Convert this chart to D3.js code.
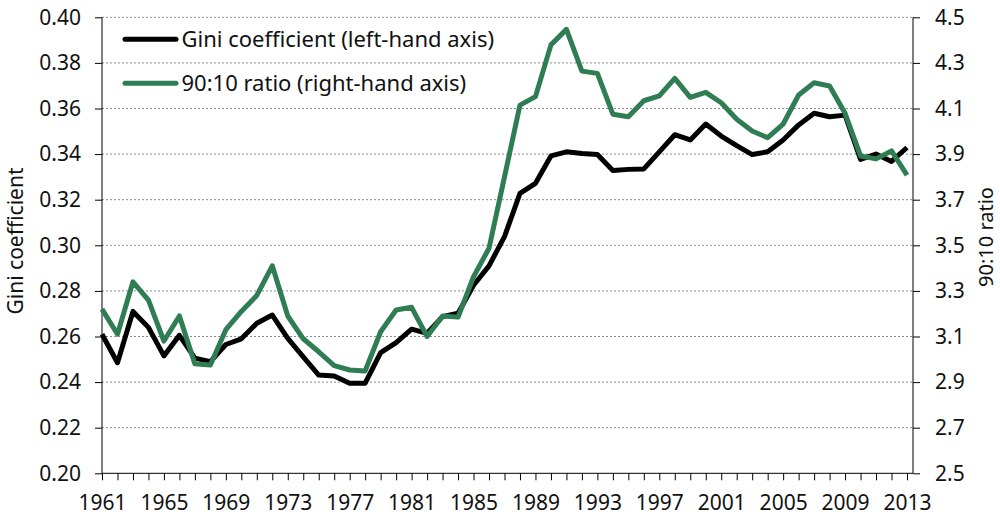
<!DOCTYPE html>
<html>
<head>
<meta charset="utf-8">
<script src="https://cdn.jsdelivr.net/npm/d3@7"></script>
<style>
  html, body { margin: 0; padding: 0; background: #fff; }
  svg { display: block; }
  text { font-family: "Noto Sans", "Open Sans", sans-serif; fill: #111; }
</style>
</head>
<body>
<svg id="chart" width="1000" height="516"></svg>
<script>
const years = [1961,1962,1963,1964,1965,1966,1967,1968,1969,1970,1971,1972,1973,1974,1975,1976,1977,1978,1979,1980,
  1981,1982,1983,1984,1985,1986,1987,1988,1989,1990,1991,1992,1993,1994,1995,1996,1997,1998,1999,2000,
  2001,2002,2003,2004,2005,2006,2007,2008,2009,2010,2011,2012,2013];
const gini = [0.261,0.2485,0.271,0.264,0.2515,0.2605,0.2505,0.249,0.2565,0.259,0.2658,0.2694,0.2592,0.2511,0.2431,0.2427,0.2395,0.2395,0.2529,0.2573,
  0.2632,0.2614,0.2687,0.2702,0.2825,0.2910,0.3038,0.3228,0.3272,0.3392,0.3410,0.3403,0.3398,0.3328,0.3333,0.3335,0.3410,0.3485,0.3462,0.3532,
  0.3479,0.3437,0.3398,0.3410,0.3462,0.3528,0.3579,0.3564,0.3571,0.3377,0.3400,0.3368,0.3429];
const ratio9010 = [3.22,3.11,3.34,3.26,3.08,3.19,2.98,2.975,3.13,3.21,3.28,3.41,3.19,3.09,3.033,2.972,2.953,2.949,3.121,3.216,
  3.228,3.10,3.19,3.185,3.362,3.487,3.80,4.115,4.152,4.379,4.447,4.264,4.254,4.075,4.064,4.134,4.155,4.232,4.149,4.171,
  4.125,4.053,4.001,3.972,4.032,4.159,4.213,4.199,4.079,3.892,3.879,3.914,3.808];
const leftTicks = [0.20,0.22,0.24,0.26,0.28,0.30,0.32,0.34,0.36,0.38,0.40];
const rightTicks = [2.5,2.7,2.9,3.1,3.3,3.5,3.7,3.9,4.1,4.3,4.5];
const yearLabels = [1961,1965,1969,1973,1977,1981,1985,1989,1993,1997,2001,2005,2009,2013];
const seriesNames = ["Gini coefficient (left-hand axis)", "90:10 ratio (right-hand axis)"];
const colors = ["#000000", "#2f7d52"];

const svg = d3.select("#chart");
const plotL = 102, plotR = 913, plotT = 17.3, plotB = 473.3;
const x = d3.scaleLinear().domain([1961, 2013]).range([plotL, 907]);
const yL = d3.scaleLinear().domain([0.20, 0.40]).range([plotB, plotT]);
const yR = d3.scaleLinear().domain([2.5, 4.5]).range([plotB, plotT]);

// gridlines
svg.append("g").selectAll("line").data(leftTicks.filter(d => d > 0.2)).join("line")
  .attr("x1", plotL).attr("x2", plotR)
  .attr("y1", d => yL(d)).attr("y2", d => yL(d))
  .attr("stroke", "#8c8c8c").attr("stroke-width", 1).attr("stroke-dasharray", "2,2");

// left axis
const gL = svg.append("g").attr("transform", `translate(${plotL},0)`)
  .call(d3.axisLeft(yL).tickValues(leftTicks).tickFormat(d3.format(".2f")).tickSize(7).tickPadding(14));
// right axis
const gR = svg.append("g").attr("transform", `translate(${plotR},0)`)
  .call(d3.axisRight(yR).tickValues(rightTicks).tickFormat(d3.format(".1f")).tickSize(7).tickPadding(15));
// bottom axis
const gB = svg.append("g").attr("transform", `translate(0,${plotB})`)
  .call(d3.axisBottom(x).tickValues(years).tickFormat(d => yearLabels.includes(d) ? d : "").tickSize(7).tickPadding(14.5));

[gL, gR, gB].forEach(g => {
  g.select(".domain").remove();
  g.selectAll(".tick line").attr("stroke", "#000").attr("stroke-width", 1);
  g.selectAll(".tick text").attr("font-size", 21).attr("font-family", "Noto Sans").attr("fill", "#111");
});
// axis lines
svg.append("line").attr("x1", plotL).attr("x2", plotL).attr("y1", plotT).attr("y2", plotB).attr("stroke", "#000");
svg.append("line").attr("x1", plotR).attr("x2", plotR).attr("y1", plotT).attr("y2", plotB).attr("stroke", "#000");
svg.append("line").attr("x1", plotL).attr("x2", plotR).attr("y1", plotB).attr("y2", plotB).attr("stroke", "#000");

// axis titles
svg.append("text").attr("transform", `translate(23,241) rotate(-90)`).attr("text-anchor", "middle")
  .attr("font-size", 21).text("Gini coefficient");
svg.append("text").attr("transform", `translate(993,237) rotate(-90)`).attr("text-anchor", "middle")
  .attr("font-size", 20).text("90:10 ratio");

// lines
const lineL = d3.line().x((d, i) => x(years[i])).y(d => yL(d));
const lineR = d3.line().x((d, i) => x(years[i])).y(d => yR(d));
svg.append("path").datum(gini).attr("d", lineL).attr("fill", "none")
  .attr("stroke", colors[0]).attr("stroke-width", 5).attr("stroke-linejoin", "round");
svg.append("path").datum(ratio9010).attr("d", lineR).attr("fill", "none")
  .attr("stroke", colors[1]).attr("stroke-width", 5).attr("stroke-linejoin", "round");

// legend
const leg = svg.append("g");
[0, 1].forEach(i => {
  const yy = 39.3 + i * 44;
  leg.append("line").attr("x1", 125).attr("x2", 176).attr("y1", yy).attr("y2", yy)
    .attr("stroke", colors[i]).attr("stroke-width", 5).attr("stroke-linecap", "round");
  leg.append("text").attr("x", 181.5).attr("y", yy + 7.6).attr("font-size", 22).text(seriesNames[i]);
});
</script>
</body>
</html>
